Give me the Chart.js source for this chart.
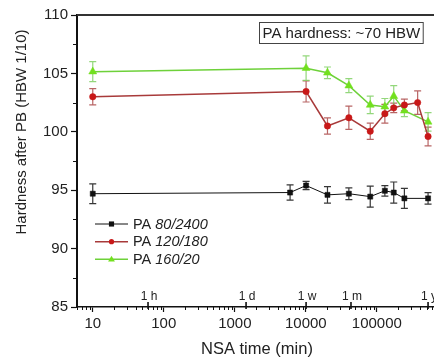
<!DOCTYPE html>
<html>
<head>
<meta charset="utf-8">
<script src="https://cdn.jsdelivr.net/npm/chart.js@4.4.0/dist/chart.umd.min.js"></script>
<style>
  html, body { margin: 0; padding: 0; overflow: hidden; background: #fff; }
  #wrap { position: relative; width: 442px; height: 361px; }
</style>
</head>
<body>
<div id="wrap"><canvas id="c" width="442" height="361"></canvas></div>
<script>
// Hardness after PB versus natural ageing (NSA) time, three PA conditions
const seriesPrefix = 'PA ';
const seriesCodes = ['80/2400', '120/180', '160/20'];

const timeA = [10, 6000, 10080, 20160, 40320, 80640, 129600, 172800, 244000, 525600];
const hardA = [94.7, 94.8, 95.4, 94.6, 94.7, 94.45, 94.95, 94.8, 94.3, 94.3];
const errA  = [0.85, 0.65, 0.35, 0.7, 0.5, 0.9, 0.45, 0.9, 0.85, 0.5];

const timeB = [10, 10080, 20160, 40320, 80640, 129600, 172800, 244000, 375000, 525600];
const hardB = [103.0, 103.45, 100.5, 101.2, 100.05, 101.55, 102.05, 102.3, 102.5, 99.6];
const errB  = [0.7, 0.9, 0.7, 1.0, 0.7, 0.8, 0.4, 0.5, 1.0, 0.8];

const timeC = [10, 10080, 20160, 40320, 80640, 129600, 172800, 244000, 525600];
const hardC = [105.15, 105.45, 105.05, 103.95, 102.3, 102.15, 103.05, 101.8, 100.85];
const errC  = [0.85, 1.05, 0.5, 0.6, 0.75, 0.7, 0.9, 0.5, 0.8];

const xTickValues = [10, 100, 1000, 10000, 100000];
const xTickLabels = ['10', '100', '1000', '10000', '100000'];
const yTickStep = 5;

// reference durations in minutes
const markTimes  = [60, 1440, 10080, 43200, 525600];
const markLabels = ['1 h', '1 d', '1 w', '1 m', '1 y'];

const noteText = 'PA hardness: ~70 HBW';
const yTitle = 'Hardness after PB (HBW 1/10)';
const xTitle = 'NSA time (min)';

const FONT = '"Liberation Sans", Arial, Helvetica, sans-serif';
const TEXT = '#222';

const toPoints = (xs, ys) => xs.map((x, i) => ({ x: x, y: ys[i] }));

const styles = [
  { line: '#111111', fill: '#111111', shape: 'rect', r: 3.6, lw: 1, err: 'rgba(20,20,20,0.85)', legendR: 2.6 },
  { line: '#a83a3a', fill: '#c81818', shape: 'circle', r: 3.2, lw: 1.5, err: 'rgba(160,50,50,0.75)', legendR: 2.6 },
  { line: '#6ed13a', fill: '#72e01e', shape: 'triangle', r: 4.6, lw: 1.5, err: 'rgba(120,205,90,0.8)', legendR: 3.6 }
];
const errs = [errA, errB, errC];

const datasets = [toPoints(timeA, hardA), toPoints(timeB, hardB), toPoints(timeC, hardC)].map((pts, i) => ({
  label: seriesPrefix + seriesCodes[i],
  data: pts,
  borderColor: styles[i].line,
  borderWidth: styles[i].lw,
  backgroundColor: styles[i].fill,
  pointBackgroundColor: styles[i].fill,
  pointBorderColor: styles[i].fill,
  pointBorderWidth: 0.5,
  pointStyle: styles[i].shape,
  pointRadius: styles[i].r,
  tension: 0,
  fill: false
}));

function drawMarker(ctx, shape, x, y, r, color) {
  ctx.save();
  ctx.fillStyle = color;
  ctx.beginPath();
  if (shape === 'rect') {
    const s = r * Math.SQRT1_2 * 1.4;
    ctx.rect(x - s, y - s, 2 * s, 2 * s);
  } else if (shape === 'circle') {
    ctx.arc(x, y, r, 0, Math.PI * 2);
  } else {
    ctx.moveTo(x, y - r);
    ctx.lineTo(x + r * 0.95, y + r * 0.6);
    ctx.lineTo(x - r * 0.95, y + r * 0.6);
    ctx.closePath();
  }
  ctx.fill();
  ctx.restore();
}

const decorations = {
  id: 'decorations',
  beforeDatasetsDraw(chart) {
    // error bars
    const ctx = chart.ctx;
    const xs = chart.scales.x, ys = chart.scales.y;
    ctx.save();
    chart.data.datasets.forEach((ds, di) => {
      ctx.strokeStyle = styles[di].err;
      ctx.lineWidth = 1.2;
      ds.data.forEach((p, i) => {
        const e = errs[di][i];
        const px = xs.getPixelForValue(p.x);
        const y1 = ys.getPixelForValue(p.y + e);
        const y2 = ys.getPixelForValue(p.y - e);
        ctx.beginPath();
        ctx.moveTo(px, y1); ctx.lineTo(px, y2);
        ctx.moveTo(px - 3.5, y1); ctx.lineTo(px + 3.5, y1);
        ctx.moveTo(px - 3.5, y2); ctx.lineTo(px + 3.5, y2);
        ctx.stroke();
      });
    });
    ctx.restore();
  },
  afterDraw(chart) {
    const ctx = chart.ctx;
    const a = chart.chartArea;
    const xs = chart.scales.x, ys = chart.scales.y;
    ctx.save();

    // top frame line
    ctx.strokeStyle = '#333';
    ctx.lineWidth = 2;
    ctx.beginPath();
    ctx.moveTo(a.left, a.top); ctx.lineTo(a.right, a.top);
    ctx.stroke();

    // minor ticks on the log axis
    ctx.strokeStyle = '#111';
    ctx.lineWidth = 1;
    ctx.beginPath();
    for (let d = 0; d <= 6; d++) {
      for (let k = 2; k <= 9; k++) {
        const v = k * Math.pow(10, d);
        if (v < xs.min || v > xs.max) continue;
        const px = Math.round(xs.getPixelForValue(v)) + 0.5;
        ctx.moveTo(px, a.bottom); ctx.lineTo(px, a.bottom + 3);
      }
    }
    // minor ticks on the hardness axis
    for (let v = ys.min + yTickStep / 2; v < ys.max; v += yTickStep) {
      const py = Math.round(ys.getPixelForValue(v)) + 0.5;
      ctx.moveTo(a.left, py); ctx.lineTo(a.left - 4, py);
    }
    ctx.stroke();

    // duration marks
    ctx.lineWidth = 1.6;
    ctx.beginPath();
    markTimes.forEach(t => {
      const px = xs.getPixelForValue(t);
      ctx.moveTo(px, a.bottom - 5); ctx.lineTo(px, a.bottom + 2);
    });
    ctx.stroke();
    ctx.fillStyle = TEXT;
    ctx.font = '12px ' + FONT;
    ctx.textAlign = 'center';
    ctx.textBaseline = 'middle';
    markTimes.forEach((t, i) => {
      ctx.fillText(markLabels[i], xs.getPixelForValue(t) + 1, a.bottom - 10.5);
    });

    // note box
    ctx.font = '15px ' + FONT;
    const tw = ctx.measureText(noteText).width;
    const bx = 259, by = 22, bw = tw + 6, bh = 21;
    ctx.fillStyle = '#fff';
    ctx.fillRect(bx, by, bw, bh);
    ctx.strokeStyle = '#444';
    ctx.lineWidth = 1;
    ctx.strokeRect(bx + 0.5, by + 0.5, bw, bh);
    ctx.fillStyle = TEXT;
    ctx.textAlign = 'left';
    ctx.fillText(noteText, bx + 3.5, by + bh / 2 + 1);

    // legend
    const legX0 = 95, legX1 = 128, legRows = [224, 241.7, 259.3];
    chart.data.datasets.forEach((ds, i) => {
      const y = legRows[i];
      ctx.strokeStyle = styles[i].line;
      ctx.lineWidth = styles[i].lw;
      ctx.beginPath();
      ctx.moveTo(legX0, y); ctx.lineTo(legX1, y);
      ctx.stroke();
      drawMarker(ctx, styles[i].shape, (legX0 + legX1) / 2, y, styles[i].legendR, styles[i].fill);
      ctx.fillStyle = TEXT;
      ctx.textAlign = 'left';
      ctx.textBaseline = 'middle';
      ctx.font = '14.5px ' + FONT;
      ctx.fillText(seriesPrefix, 133, y + 0.5);
      const pw = ctx.measureText(seriesPrefix).width;
      ctx.font = 'italic 14.5px ' + FONT;
      ctx.fillText(seriesCodes[i], 133 + pw, y + 0.5);
    });

    // y axis title
    ctx.save();
    ctx.translate(22, 132);
    ctx.rotate(-Math.PI / 2);
    ctx.font = '15px ' + FONT;
    ctx.textAlign = 'center';
    ctx.textBaseline = 'middle';
    ctx.fillStyle = TEXT;
    ctx.fillText(yTitle, 0, 0);
    ctx.restore();

    ctx.restore();
  }
};

new Chart(document.getElementById('c'), {
  type: 'line',
  data: { datasets: datasets },
  options: {
    responsive: false,
    animation: false,
    devicePixelRatio: 1,
    layout: { padding: { top: 15, right: 2, left: 0, bottom: 0 } },
    plugins: { legend: { display: false }, tooltip: { enabled: false }, title: { display: false } },
    scales: {
      x: {
        type: 'logarithmic',
        min: 6,
        max: 700000,
        afterBuildTicks: s => { s.ticks = xTickValues.map(v => ({ value: v })); },
        afterFit: s => { s.height = 54; },
        border: { display: true, color: '#111', width: 1.5 },
        grid: { display: true, drawOnChartArea: false, drawTicks: true, tickLength: 5, tickColor: '#111', tickWidth: 1.2 },
        ticks: {
          autoSkip: false, maxRotation: 0, minRotation: 0, padding: 3,
          color: TEXT, font: { family: FONT, size: 15 },
          callback: (v, i) => xTickLabels[i]
        },
        title: { display: true, text: xTitle, color: TEXT, font: { family: FONT, size: 16.5 }, padding: { top: 0, bottom: 2 } }
      },
      y: {
        min: 85,
        max: 110,
        afterFit: s => { s.width = 77; },
        border: { display: true, color: '#111', width: 2 },
        grid: { display: true, drawOnChartArea: false, drawTicks: true, tickLength: 6, tickColor: '#111', tickWidth: 1.2 },
        ticks: { stepSize: yTickStep, padding: 3, color: TEXT, font: { family: FONT, size: 15 } },
        title: { display: false }
      }
    }
  },
  plugins: [decorations]
});
</script>
</body>
</html>
